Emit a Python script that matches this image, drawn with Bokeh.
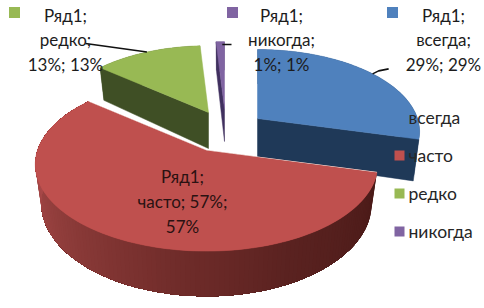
import math
from bokeh.embed import file_html
from bokeh.resources import INLINE
from bokeh.plotting import figure
from bokeh.models import Range1d
from bokeh.core.properties import value

categories = ["всегда", "часто", "редко", "никогда"]
shares = [29, 57, 13, 1]
series_name = "Ряд1"
top_colors = ["#4f81bd", "#bf504e", "#98b954", "#8064a2"]
cut_colors = ["#1f3958", "#5a2422", "#3f4f25", "#40305f"]
wall_stops = [(0.0, (74, 26, 24)), (0.3, (90, 34, 32)), (0.5, (112, 44, 42)), (0.75, (142, 60, 58)), (1.0, (170, 74, 74))]

# layout of the exploded slices (apex in page pixels, radius, thickness)
apexes = [(257, 118), (206, 150), (208, 112), (224, 108)]
radii = [160, 169, 155, 155]
depths = [40, 38, 36, 33]
P, K, R0 = 0.16, 85.0, 170.0
FONT = "Lato"
INK = "#1c1c1c"
FS = "17px"

p = figure(width=484, height=308, output_backend="svg", toolbar_location=None,
           x_range=Range1d(0, 484), y_range=Range1d(308, 0), min_border=0,
           outline_line_color=None, border_fill_color="white", background_fill_color="white")
p.axis.visible = False
p.grid.visible = False


def proj(t, i, lower=False):
    ax, ay = apexes[i]
    R = radii[i]
    X, Y = math.sin(t), math.cos(t)
    s = 1 / (1 + P * Y)
    x = X * R * s
    y = -K * (R / R0) * Y * s
    if lower:
        return ax + x * 0.965, ay + y + depths[i] * s
    return ax + x, ay + y


def shade(f):
    for (a, ca), (b, cb) in zip(wall_stops, wall_stops[1:]):
        if a <= f <= b:
            u = (f - a) / (b - a)
            return "#%02x%02x%02x" % tuple(round(x + (y - x) * u) for x, y in zip(ca, cb))
    return "#%02x%02x%02x" % wall_stops[-1][1]


total = sum(shares)
spans = []
acc = 0.0
for v in shares:
    a0 = acc / total * 2 * math.pi
    acc += v
    spans.append((a0, acc / total * 2 * math.pi))

for i in [2, 3, 0, 1]:
    a0, a1 = spans[i]
    ax, ay = apexes[i]
    d = depths[i]
    n = max(8, int((a1 - a0) * 40))
    ts = [a0 + (a1 - a0) * j / n for j in range(n + 1)]

    # outer wall: each strip runs to the far end of the arc, the next one paints over it
    order = range(n)
    for j in order:
        t0 = ts[j]
        rest = ts[j:]
        upper = [proj(t, i) for t in rest]
        lower = [proj(t, i, True) for t in reversed(rest)]
        if i == 1:
            f = min(1.0, max(0.0, (math.pi * 1.5 - t0) / (math.pi * 1.5 - spans[1][0])))
            col = shade(1 - f)
        else:
            col = cut_colors[i]
            if j > 0:
                continue
        p.patch([q[0] for q in upper + lower], [q[1] for q in upper + lower],
                fill_color=col, line_color=None)

    # cut face that looks at the viewer
    edge = a1 if i == 0 else a0
    if i in (0, 2, 3):
        ex, ey = proj(edge, i)
        fx, fy = proj(edge, i, True)
        p.patch([ax, ex, fx, ax], [ay, ey, fy, ay + d], fill_color=cut_colors[i], line_color=cut_colors[i], line_width=0.5)

    # top surface
    pts = [proj(t, i) for t in ts]
    p.patch([ax] + [q[0] for q in pts], [ay] + [q[1] for q in pts],
            fill_color=top_colors[i], line_color=top_colors[i], line_width=0.5)

# thin pale seam along the red slice's straight edges
a0, a1 = spans[1]
for e in (a0, a1):
    ex, ey = proj(e, 1)
    p.line([apexes[1][0], ex], [apexes[1][1], ey], line_color="#f4e3dc", line_width=1)
p.patch([apexes[1][0]] + [proj(a0 + (a1 - a0) * j / 120, 1)[0] for j in range(121)],
        [apexes[1][1]] + [proj(a0 + (a1 - a0) * j / 120, 1)[1] for j in range(121)],
        fill_color=top_colors[1], line_color=None)

# leader lines from the slice rims
mid = {i: proj((spans[i][0] + spans[i][1]) / 2, i) for i in range(4)}
p.line([85, mid[2][0]], [43, mid[2][1]], line_color="#111111", line_width=1.6)
p.line([mid[3][0] + 2, 231], [44, 44], line_color="#111111", line_width=1.6)
p.line([mid[0][0], mid[0][0] + 6, mid[0][0] + 16], [mid[0][1], mid[0][1] - 3, mid[0][1] - 5], line_color="#111111", line_width=1.6)

# data labels
label_blocks = [
    (2, 65, [15, 39, 64], 14, 12, ["%s;" % series_name, "%s;" % categories[2], "%d%%; %d%%" % (shares[2], shares[2])]),
    (3, 281, [15, 39, 64], 232, 12, ["%s;" % series_name, "%s;" % categories[3], "%d%%; %d%%" % (shares[3], shares[3])]),
    (0, 443, [15, 39, 64], 392, 12, ["%s;" % series_name, "%s;" % categories[0], "%d%%; %d%%" % (shares[0], shares[0])]),
]
for i, cx, ys, sx, sy, lines in label_blocks:
    p.scatter([sx], [sy], marker="square", size=11, fill_color=top_colors[i], line_color=None)
    p.text([cx] * 3, ys, text=lines, text_align="center", text_baseline="middle",
           text_font=value(FONT), text_font_size=value(FS), text_color=INK)

red_lines = ["%s;" % series_name, "%s; %d%%;" % (categories[1], shares[1]), "%d%%" % shares[1]]
p.text([182] * 3, [176, 201, 226], text=red_lines, text_align="center", text_baseline="middle",
       text_font=value(FONT), text_font_size=value(FS), text_color="#2a1212")

# legend
legend_y = [117, 155, 193, 231]
p.scatter([399] * 3, legend_y[1:], marker="square", size=10, fill_color=top_colors[1:], line_color=None)
p.text([408] * 4, legend_y, text=categories, text_align="left", text_baseline="middle",
       text_font=value(FONT), text_font_size=value("17.5px"), text_color="#262626")

open("out.html", "w").write(file_html(p, INLINE))
